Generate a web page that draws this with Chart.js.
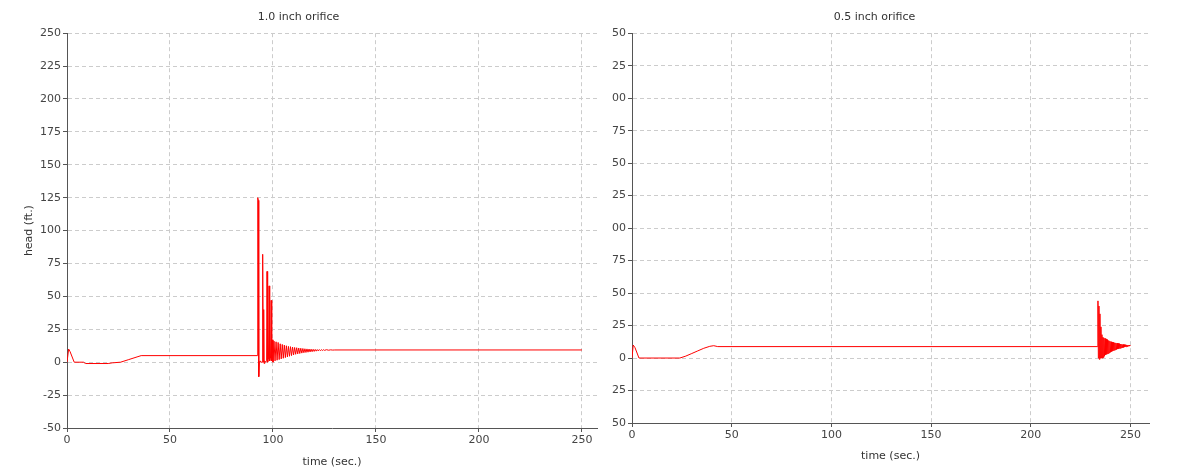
<!DOCTYPE html>
<html>
<head>
<meta charset="utf-8">
<script src="https://cdn.jsdelivr.net/npm/chart.js@4.4.0/dist/chart.umd.min.js"></script>
<style>
  body { margin: 0; background: #fff; }
  .box { position: absolute; top: 0; height: 472px; }
</style>
</head>
<body>
<div class="box" style="left:0;width:600px"><canvas id="left"></canvas></div>
<div class="box" style="left:600px;width:581px"><canvas id="right"></canvas></div>
<script>
// tick values / labels
const xTicks = [0, 50, 100, 150, 200, 250];
const yTicks = [-50, -25, 0, 25, 50, 75, 100, 125, 150, 175, 200, 225, 250];
const leftYLabels = ["-50", "-25", "0", "25", "50", "75", "100", "125", "150", "175", "200", "225", "250"];
// the right panel shows its labels cut off on the left
const rightYLabels = ["50", "25", "0", "25", "50", "75", "00", "25", "50", "75", "00", "25", "50"];

// 1.0 inch orifice: time (sec.) and head (ft.)
const leftTime = [0, 0.8, 1.5, 3.5, 8, 9, 20, 22, 26, 30, 34, 36, 92.4,
  92.6, 92.9, 93.1, 93.4, 93.8, 94.2, 94.7, 95.0, 95.3, 95.5, 95.7, 96.0, 96.4,
  96.9, 97.1, 97.4, 97.8, 98.1, 98.4, 98.8, 99.1, 99.4, 99.7,
  100, 100.5, 101, 101.5, 102, 102.5, 103, 103.5, 104, 104.5, 105, 105.5,
  106, 106.5, 107, 107.5, 108, 108.5, 109, 109.5, 110, 110.5, 111, 111.5,
  112, 112.5, 113, 113.5, 114, 114.5, 115, 115.5, 116, 116.5, 117, 117.5,
  118, 118.5, 119, 119.5, 120, 120.5, 121, 121.5, 122, 122.5, 123, 123.5,
  124, 124.5, 125, 126, 127, 128, 129, 130, 250];
const leftHead = [0, 10, 8, 0, 0, -1, -1, -0.5, 0, 2, 4, 5, 5,
  125, 123, -11, 0, 1, 0, 0, 82, 0, 40, -1, 1, 0,
  1, 69, 0, 2, 58, 1, 3, 47, 1, 17,
  0, 16, 1, 15.5, 1.5, 15, 2, 14, 2.5, 13.5, 3, 13,
  3.5, 12.5, 4, 12, 4.5, 11.8, 5, 11.5, 5.5, 11.2, 6, 11,
  6.3, 10.8, 6.6, 10.6, 6.9, 10.4, 7.2, 10.2, 7.4, 10.1, 7.6, 10,
  7.8, 9.9, 8, 9.8, 8.2, 9.7, 8.4, 9.6, 8.6, 9.6, 8.8, 9.5,
  8.9, 9.5, 9, 9.5, 9.1, 9.4, 9.2, 9.3, 9.3];

// 0.5 inch orifice
const rightTime = [0, 0.6, 1.5, 3.5, 24, 27, 30, 33, 36, 39, 41, 43, 233.5,
  233.7, 233.9, 234.2, 234.4, 234.7, 234.9, 235.2, 235.4, 235.7, 235.9, 236.2, 236.4,
  236.7, 237.0, 237.3, 237.6, 237.9, 238.2, 238.5, 238.8, 239.1, 239.4, 239.7, 240.0,
  240.3, 240.6, 240.9, 241.2, 241.5, 241.8, 242.1, 242.4, 242.7, 243.0, 243.3, 243.6,
  243.9, 244.2, 244.5, 244.8, 245.1, 245.4, 245.7, 246.0, 246.3, 246.6, 246.9, 247.2,
  247.5, 247.8, 248.1, 248.4, 248.7, 249.0, 249.3, 249.6, 250];
const rightHead = [0, 10, 8, 0, 0, 1.5, 3.5, 5.5, 7.5, 9, 9.5, 8.8, 8.8,
  44, 0, 40, -1, 34, 0, 24, 0, 18, 0, 16, 0.5,
  15.5, 1.5, 15, 2.5, 14.5, 3, 14, 3.5, 13.5, 4, 13, 4.5,
  12.5, 5, 12.2, 5.5, 12, 6, 11.8, 6.3, 11.6, 6.6, 11.4, 6.9,
  11.2, 7.2, 11, 7.5, 10.8, 7.8, 10.6, 8, 10.4, 8.2, 10.3, 8.5,
  10.2, 8.7, 10.1, 8.9, 10, 9.1, 9.9, 9.3, 9.6];

const FONT = "DejaVu Sans";

function makeChart(id, title, times, heads, cfg) {
  const points = times.map((t, i) => ({ x: t, y: heads[i] }));
  return new Chart(document.getElementById(id), {
    type: "line",
    data: {
      datasets: [{
        data: points,
        borderColor: "#ff0000",
        borderWidth: 1,
        pointRadius: 0,
        tension: 0,
      }],
    },
    options: {
      responsive: true,
      maintainAspectRatio: false,
      animation: false,
      layout: { padding: { left: 0, right: cfg.padRight, top: 0, bottom: 0 } },
      plugins: {
        legend: { display: false },
        tooltip: { enabled: false },
        title: {
          display: true,
          text: title,
          color: "#333",
          font: { family: FONT, size: 11, weight: "normal" },
          padding: { top: 11, bottom: 9 },
        },
      },
      scales: {
        x: {
          type: "linear",
          min: 0,
          max: cfg.xMax,
          afterBuildTicks: s => { s.ticks = xTicks.map(v => ({ value: v })); },
          afterFit: s => { s.height = cfg.xHeight; },
          ticks: {
            color: "#444",
            font: { family: FONT, size: 11 },
            padding: 2,
            maxRotation: 0,
            callback: v => String(v),
          },
          grid: { color: "#cccccc", tickColor: "#555", tickLength: 4, lineWidth: 1 },
          border: { display: true, color: "#555", width: 1, dash: [4, 3] },
          title: {
            display: true,
            text: "time (sec.)",
            color: "#333",
            font: { family: FONT, size: 11 },
            padding: { top: 0, bottom: cfg.xTitlePad },
          },
        },
        y: {
          min: -50,
          max: 250,
          afterBuildTicks: s => { s.ticks = yTicks.map(v => ({ value: v })); },
          afterFit: s => { s.width = cfg.yWidth; },
          ticks: {
            color: "#444",
            font: { family: FONT, size: 11 },
            padding: 2,
            callback: v => cfg.yLabels[yTicks.indexOf(v)],
          },
          grid: { color: "#cccccc", tickColor: "#555", tickLength: 4, lineWidth: 1 },
          border: { display: true, color: "#555", width: 1, dash: [4, 3] },
          title: {
            display: cfg.yTitle,
            text: "head (ft.)",
            color: "#333",
            font: { family: FONT, size: 11 },
            padding: { top: 23, bottom: 0 },
          },
        },
      },
    },
  });
}

makeChart("left", "1.0 inch orifice", leftTime, leftHead,
  { xMax: 257.3, padRight: 3, xHeight: 44, yWidth: 67, yLabels: leftYLabels, yTitle: true, xTitlePad: 3 });
makeChart("right", "0.5 inch orifice", rightTime, rightHead,
  { xMax: 259.3, padRight: 32, xHeight: 49, yWidth: 32, yLabels: rightYLabels, yTitle: false, xTitlePad: 9 });
</script>
</body>
</html>
